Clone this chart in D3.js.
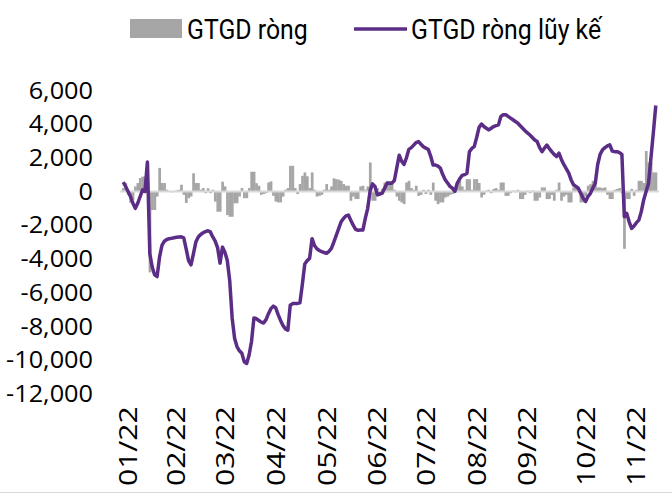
<!DOCTYPE html>
<html><head><meta charset="utf-8">
<script src="https://cdn.jsdelivr.net/npm/d3@7"></script>
<style>body{margin:0;background:#fff} svg{display:block}</style>
</head><body>
<svg id="c" width="672" height="494"></svg>
<script>
// Daily net foreign trading value (GTGD ròng), billion VND, one value per trading day
const netFlow = [
 200,500,-200,-680,-500,300,500,800,880,900,
 600,-4800,-1100,-1100,-300,1400,500,500,100,0,
 -50,0,50,100,400,-200,-680,-400,-300,1080,
 500,500,100,200,-100,190,-100,100,-600,-1200,
 -1200,580,300,-1400,-1500,-1500,-700,-700,-300,200,
 -400,-400,200,1170,1170,490,340,-200,-150,-100,
 530,600,-260,-600,-650,-650,-300,100,200,1520,
 1520,200,-150,440,930,1130,900,200,1130,100,
 -300,-260,-200,100,440,100,300,780,730,700,
 630,440,340,340,-550,-300,-450,-450,300,340,
 100,300,1720,-550,-550,200,-100,150,530,630,
 530,440,100,-300,-550,-650,-750,530,630,200,
 100,340,-260,-200,100,-150,100,-200,530,-550,
 -750,-650,-650,-360,-300,-200,-150,100,440,630,
 300,100,730,730,100,730,730,500,-360,-200,
 50,100,-100,150,200,100,530,530,-260,-260,
 -100,50,-50,100,-450,-450,-200,50,-100,50,
 -550,-550,-360,240,240,-450,-450,-200,-550,100,
 530,-550,-300,-200,-650,-650,240,240,100,-650,
 -650,-300,340,430,630,730,240,240,200,240,
 -200,-450,-450,100,150,200,-100,-3400,-450,-450,
 150,-260,100,630,630,500,2400,1720,1720,1130,
 1130
];
// Cumulative net value (GTGD ròng lũy kế), billion VND
const cumFlow = [
 550,300,0,-300,-700,-1000,-700,-300,100,0,
 1750,-3700,-4500,-4950,-5050,-3900,-3200,-2950,-2850,-2800,
 -2780,-2750,-2720,-2700,-2690,-2750,-3400,-4100,-4350,-3700,
 -3000,-2700,-2550,-2450,-2380,-2330,-2400,-2700,-2950,-3350,
 -4250,-3300,-3600,-4100,-5300,-7500,-8700,-9200,-9450,-9600,
 -10100,-10200,-9700,-8900,-7500,-7550,-7650,-7750,-7800,-7600,
 -7250,-6950,-6800,-6900,-7300,-7650,-7950,-8150,-8230,-6750,
 -6650,-6650,-6640,-6600,-5500,-4300,-4100,-3970,-2800,-3200,
 -3400,-3500,-3570,-3620,-3670,-3550,-3380,-3000,-2600,-2200,
 -1800,-1600,-1450,-1400,-1700,-2000,-2250,-2300,-2290,-2290,
 -1600,-1000,50,450,300,-200,-150,-100,200,490,
 500,490,650,1400,2150,1800,1600,2000,2500,2600,
 2750,2900,2960,2800,2650,2570,2500,2100,1570,1570,
 1500,1380,1000,700,500,300,190,0,500,750,
 950,1000,1080,2350,2550,2660,3200,3800,4000,3850,
 3750,3650,3750,3850,3900,3950,4450,4550,4550,4450,
 4350,4250,4150,4050,3900,3750,3600,3470,3350,3200,
 3050,2960,2600,2360,2570,2750,2550,2360,2200,2070,
 2270,1900,1600,1350,1100,700,400,300,190,-100,
 -400,-600,-300,-110,200,490,1600,2200,2470,2600,
 2700,2760,2400,2360,2360,2300,2200,-1500,-1300,-1800,
 -2190,-2050,-1850,-1700,-1200,-500,0,490,2000,3500,
 5100
];
const monthLabels = ["01/22","02/22","03/22","04/22","05/22","06/22","07/22","08/22","09/22","10/22","11/22"];
const monthLabelDay = [2, 22, 42, 63, 84, 105, 125, 146, 167, 191, 212];
const yTicks = [6000,4000,2000,0,-2000,-4000,-6000,-8000,-10000,-12000];
const legendNames = ["GTGD ròng","GTGD ròng lũy kế"];

const svg = d3.select("#c");
const days = d3.range(netFlow.length);
const x = d3.scaleBand().domain(days).range([122, 657]).padding(0);
const y = d3.scaleLinear().domain([-12000, 6000]).range([393.8, 90.3]);
const fmt = d3.formatLocale({decimal:".", thousands:",", grouping:[3], currency:["",""], minus:"-"}).format(",");
const cx = i => x(i) + x.bandwidth()/2;
const cxf = v => x(0) + (v + 0.5) * x.step();

// bars
svg.append("g").selectAll("rect").data(netFlow).join("rect")
  .attr("x", (d,i) => x(i))
  .attr("width", x.bandwidth() + 0.3)
  .attr("y", d => Math.min(y(0), y(d)))
  .attr("height", d => Math.abs(y(d) - y(0)))
  .attr("fill", "#a6a6a6");

// zero axis line
svg.append("line")
  .attr("x1", 120).attr("x2", 659)
  .attr("y1", y(0)).attr("y2", y(0))
  .attr("stroke", "#d9d9d9").attr("stroke-width", 2);

// cumulative line
svg.append("path").datum(cumFlow)
  .attr("d", d3.line().x((d,i) => cx(i)).y(d => y(d)))
  .attr("fill", "none").attr("stroke", "#5b2d86")
  .attr("stroke-width", 3.5).attr("stroke-linejoin", "round");

// y-axis labels
svg.append("g").selectAll("text").data(yTicks).join("text")
  .attr("transform", d => `translate(93,${y(d)}) scale(1.1,1)`)
  .attr("dy", "0.36em")
  .attr("text-anchor", "end")
  .attr("font-family", "Open Sans")
  .attr("font-size", 23)
  .attr("fill", "#000")
  .text(d => fmt(d));

// x-axis labels
svg.append("g").selectAll("text").data(monthLabels).join("text")
  .attr("transform", (d,i) => `translate(${cxf(monthLabelDay[i])},486) rotate(-90) scale(1.2,1)`)
  .attr("dy", "0.36em")
  .attr("text-anchor", "start")
  .attr("font-family", "Open Sans")
  .attr("font-size", 25)
  .attr("fill", "#000")
  .text(d => d);

// bottom border
svg.append("line").attr("x1",0).attr("x2",672).attr("y1",492.5).attr("y2",492.5)
  .attr("stroke","#d9d9d9").attr("stroke-width",1);

// legend
const lg = svg.append("g");
lg.append("rect").attr("x",130).attr("y",19).attr("width",52).attr("height",19).attr("fill","#a6a6a6");
lg.append("text").attr("transform","translate(187,39) scale(0.92,1)").attr("font-family","Roboto").attr("font-size",27)
  .attr("fill","#000").text(legendNames[0]);
lg.append("line").attr("x1",354).attr("x2",407).attr("y1",29).attr("y2",29)
  .attr("stroke","#5b2d86").attr("stroke-width",3.5);
lg.append("text").attr("transform","translate(411,39) scale(0.92,1)").attr("font-family","Roboto").attr("font-size",27)
  .attr("fill","#000").text(legendNames[1]);
</script>
</body></html>
